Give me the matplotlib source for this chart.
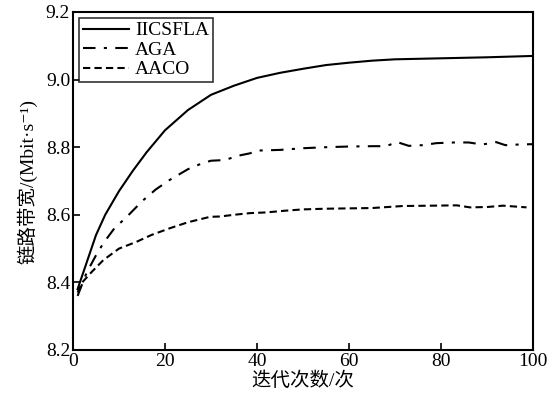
import matplotlib
matplotlib.use('Agg')
import matplotlib.pyplot as plt

plt.rcParams['font.family'] = ['Liberation Serif', 'Noto Sans CJK SC', 'DejaVu Serif']

# IICSFLA
x_iic = [1, 3, 5, 7, 10, 13, 16, 20, 25, 30, 35, 40, 45, 50, 55, 60, 65, 70, 80, 90, 100]
y_iic = [8.38, 8.46, 8.54, 8.60, 8.67, 8.73, 8.785, 8.85, 8.91, 8.955, 8.982, 9.005,
         9.02, 9.032, 9.043, 9.05, 9.056, 9.06, 9.063, 9.066, 9.07]

# AGA
x_aga = [1, 3, 5, 6.6, 9, 11.7, 15, 18, 21, 25, 28, 30, 33, 36, 38.5, 40, 45, 50, 55,
         60, 65, 68, 70.5, 73, 76, 79, 83, 86, 89, 92, 94, 97, 100]
y_aga = [8.36, 8.43, 8.48, 8.516, 8.56, 8.594, 8.64, 8.675, 8.703, 8.735, 8.752, 8.76,
         8.762, 8.775, 8.782, 8.79, 8.792, 8.797, 8.80, 8.802, 8.803, 8.803, 8.815,
         8.804, 8.806, 8.812, 8.814, 8.814, 8.808, 8.815, 8.806, 8.808, 8.809]

# AACO
x_aaco = [1, 2, 4, 6.6, 10, 13.8, 17, 21, 25, 29.8, 32, 35, 38.5, 42, 46, 50, 55, 60,
          65, 71.7, 78, 83.4, 86.3, 90, 93.5, 98.6]
y_aaco = [8.37, 8.40, 8.43, 8.466, 8.50, 8.52, 8.54, 8.56, 8.578, 8.594, 8.595, 8.60,
          8.605, 8.607, 8.612, 8.616, 8.618, 8.619, 8.62, 8.626, 8.627, 8.628, 8.622,
          8.623, 8.627, 8.622]

fig = plt.figure(figsize=(5.48, 4.0), dpi=100)
ax = fig.add_axes([0.1332, 0.125, 0.8394, 0.845])

ax.plot(x_iic, y_iic, color='black', lw=1.5, label='IICSFLA')
ax.plot(x_aga, y_aga, color='black', lw=1.5, dashes=(6, 4, 1.5, 4), label='AGA')
ax.plot(x_aaco, y_aaco, color='black', lw=1.5, dashes=(3.5, 2), label='AACO')

ax.set_xlim(0, 100)
ax.set_ylim(8.2, 9.2)
ax.set_xticks([0, 20, 40, 60, 80, 100])
ax.set_yticks([8.2, 8.4, 8.6, 8.8, 9.0, 9.2])
ax.set_yticklabels(['8.2', '8.4', '8.6', '8.8', '9.0', '9.2'])
ax.tick_params(direction='in', length=5, width=1.2, labelsize=14, pad=2,
               top=False, right=False)
for s in ax.spines.values():
    s.set_linewidth(1.5)

ax.set_xlabel('迭代次数/次', fontsize=14, labelpad=1)
ax.set_ylabel('链路带宽/(Mbit·s⁻¹)', fontsize=14, labelpad=6)

leg = ax.legend(loc='upper left', fontsize=14, frameon=True, fancybox=False,
                edgecolor='black', borderpad=0.2, labelspacing=0.1,
                handlelength=2.4, handletextpad=0.3, borderaxespad=0.3)
leg.get_frame().set_linewidth(1.2)

fig.savefig('out.png', dpi=100)
